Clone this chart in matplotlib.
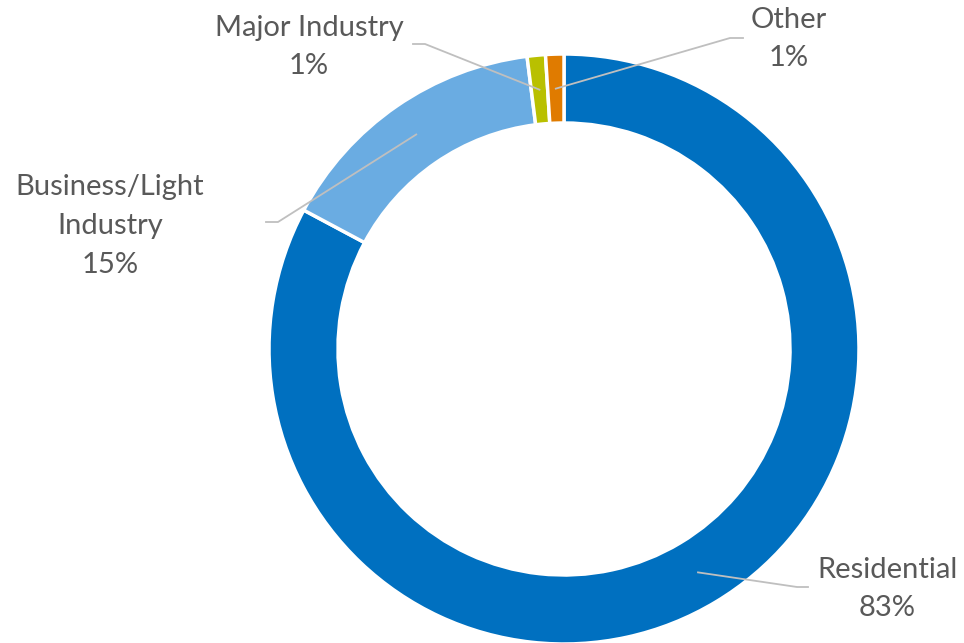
import numpy as np
import matplotlib
matplotlib.use("Agg")
import matplotlib.pyplot as plt

# Datos
categorias = ["Residential", "Business/Light\nIndustry", "Major Industry", "Other"]
valores = [82.8, 15.2, 1.0, 1.0]
colores = ["#0070C0", "#6AACE2", "#B9C000", "#E07B00"]

plt.rcParams["font.family"] = ["Lato", "DejaVu Sans"]

W, H = 964, 643
fig = plt.figure(figsize=(W / 100, H / 100), dpi=100)
ax = fig.add_axes([0, 0, 1, 1])

cx, cy = 564, H - 349
r_out = 295
r_in = 226

ax.pie(valores, colors=colores, startangle=90, counterclock=False,
       center=(cx, cy), radius=r_out,
       wedgeprops=dict(width=r_out - r_in, edgecolor="white", linewidth=2.5))

# pie() cambia los límites, se fijan después
ax.set_xlim(0, W)
ax.set_ylim(0, H)
ax.set_aspect("equal")
ax.axis("off")

# Líneas guía y etiquetas (posición del codo y del texto en píxeles)
codos = [(797, 587, 808), (278, 222, 266), (425, 44, 413), (730, 38, 743)]
textos = [(887, 589), (110, 226), (309, 47), (789, 39)]

total = sum(valores)
acum = 0
gris = "#BFBFBF"
for cat, v, (kx, ky, hx), (tx, ty) in zip(categorias, valores, codos, textos):
    medio = (acum + v / 2) / total * 2 * np.pi
    acum += v
    r_mid = (r_out + r_in) / 2
    sx = cx + r_mid * np.sin(medio)
    sy = cy + r_mid * np.cos(medio)
    ax.plot([sx, kx, hx], [sy, H - ky, H - ky], color=gris, lw=1.3)
    pct = f"{v / total * 100:.0f}%"
    ax.text(tx, H - ty, f"{cat}\n{pct}", ha="center", va="center",
            fontsize=21, color="#595959", linespacing=1.6)

plt.savefig("out.png", dpi=100)
